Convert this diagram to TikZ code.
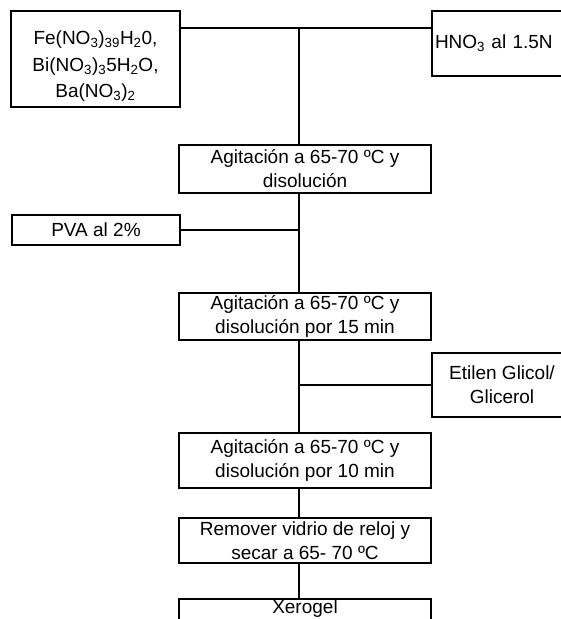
\documentclass[tikz,border=0pt]{standalone}
\usepackage{fontspec}
\setmainfont{Liberation Sans}
\usetikzlibrary{positioning}

\begin{document}
\begin{tikzpicture}[x=1pt,y=-1pt,line width=1.5pt,
  proc/.style={draw,inner sep=0pt,align=center,minimum width=252pt,font=\fontsize{19}{24}\selectfont},
  feed/.style={proc,minimum width=140pt}]
  \useasboundingbox (0,0) rectangle (561,619);
  \clip (0,0) rectangle (561,619);
  \node[proc,minimum width=169pt,minimum height=96pt,font=\fontsize{19}{26.5}\selectfont] (sales) at (95.5,59)
    {\rule{0pt}{28pt}Fe(NO\textsubscript{3})\textsubscript{39}H\textsubscript{2}0,\\Bi(NO\textsubscript{3})\textsubscript{3}5H\textsubscript{2}O,\\Ba(NO\textsubscript{3})\textsubscript{2}};
  \node[feed,minimum height=65pt,text width=134pt,align=left] (acido) at (502,43.5) {HNO\textsubscript{3} al 1.5N};
  \node[proc,minimum height=48pt] (agit1) at (305,169) {Agitación a 65-70 ºC y\\disolución};
  \node[proc,minimum width=168pt,minimum height=30pt] (pva) at (96,230) {PVA al 2\%};
  \node[proc,minimum height=47pt] (agit2) at (305,316.5) {Agitación a 65-70 ºC y\\disolución por 15 min};
  \node[feed,minimum height=64pt] (glicol) at (502,385) {Etilen Glicol/\\Glicerol};
  \node[proc,minimum height=55pt] (agit3) at (305,460.5) {Agitación a 65-70 ºC y\\disolución por 10 min};
  \node[proc,minimum height=45pt] (secado) at (305,540.5) {Remover vidrio de reloj y\\secar a 65- 70 ºC};
  \node[proc,anchor=north,text height=15pt,text depth=40pt] (xero) at (305,598) {Xerogel};
  \coordinate (eje) at (299,28);
  \draw (eje -| sales.east) -- (eje -| acido.west);
  \draw (eje) -- (eje |- agit1.north);
  \draw (agit1.south -| eje) -- (agit2.north -| eje);
  \draw (pva.east) -- (pva.east -| eje);
  \draw (agit2.south -| eje) -- (agit3.north -| eje);
  \draw (glicol.west) -- (glicol.west -| eje);
  \draw (agit3.south -| eje) -- (secado.north -| eje);
  \draw (secado.south -| eje) -- (xero.north -| eje);
\end{tikzpicture}
\end{document}
